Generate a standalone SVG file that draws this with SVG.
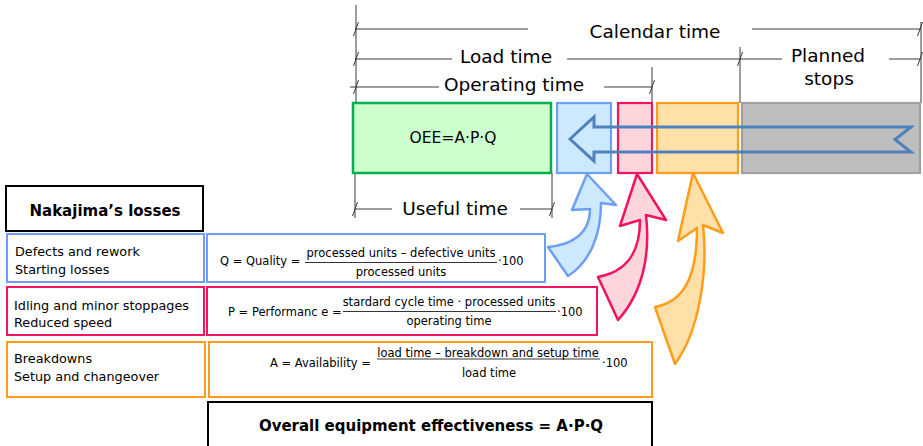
<svg xmlns="http://www.w3.org/2000/svg" width="923" height="446" viewBox="0 0 923 446">
<style>
.t{font-family:"DejaVu Sans","Liberation Sans",sans-serif;fill:#000}
.lbl{font-size:18.5px}
.row{font-size:12.8px}
.f{font-size:11.5px}
.b{font-size:15px;font-weight:bold}
.dim{stroke:#3a3a3a;stroke-width:1;fill:none}
.frac{stroke:#000;stroke-width:0.8}
.blue{fill:#cce9fd;stroke:#6f9ef8}
.pink{fill:#ffd5dc;stroke:#f2145f}
.orange{fill:#ffe0a8;stroke:#ff9c1a}
.box{stroke-width:2.2}
.rb{fill:#fff;stroke-width:2}
</style>
<defs>
<path id="tick" d="M-2.5,7 L2.5,-7" stroke="#3a3a3a" stroke-width="1" fill="none"/>
</defs>
<rect width="923" height="446" fill="#fff"/>

<g id="dimensions">
<path class="dim" d="M356,5 V103 M355,173 V218 M552,173 V218 M652,67 V110 M740,47 V103 M921,22 V103"/>
<path class="dim" d="M355,29 H528 M752,29 H921"/>
<path class="dim" d="M355,59 H452 M567,59 H782 M889,59 H921"/>
<path class="dim" d="M350,87 H439 M604,87 H652"/>
<path class="dim" d="M355,209 H392 M520,209 H552"/>
<use href="#tick" x="356" y="29"/>
<use href="#tick" x="356" y="59"/>
<use href="#tick" x="356" y="87"/>
<use href="#tick" x="652" y="87"/>
<use href="#tick" x="740" y="59"/>
<use href="#tick" x="920" y="29"/>
<use href="#tick" x="920" y="59"/>
<use href="#tick" x="355" y="209"/>
<use href="#tick" x="552" y="209"/>
<text class="t lbl" x="655" y="38" text-anchor="middle">Calendar time</text>
<text class="t lbl" x="506" y="63" text-anchor="middle">Load time</text>
<text class="t lbl" x="514" y="91" text-anchor="middle">Operating time</text>
<text class="t lbl" x="828" y="62" text-anchor="middle">Planned</text>
<text class="t lbl" x="829" y="85" text-anchor="middle">stops</text>
<text class="t lbl" x="455" y="215" text-anchor="middle">Useful time</text>
</g>

<g id="useful">
<rect x="353" y="103" width="198" height="70" fill="#ccffcc" stroke="#00b050" stroke-width="2.5"/>
<text class="t" x="453" y="143" text-anchor="middle" font-size="15.5">OEE=A·P·Q</text>
</g>
<g id="quality-loss"><rect class="blue box" x="557" y="103" width="54" height="70"/></g>
<g id="performance-loss"><rect class="pink box" x="618" y="103" width="34" height="70"/></g>
<g id="availability-loss"><rect class="orange box" x="657" y="103" width="81" height="70"/></g>
<g id="planned-stops"><rect x="742" y="103" width="178" height="70" fill="#bebebe" stroke="#a0a0a0" stroke-width="2.2"/></g>

<g id="nakajima">
<rect x="6" y="186" width="197" height="45" fill="#fff" stroke="#000" stroke-width="2"/>
<text class="t b" x="105" y="216" text-anchor="middle">Nakajima’s losses</text>
</g>

<g id="quality-row">
<rect class="rb" x="7" y="234" width="197" height="48" stroke="#6f9ef8"/>
<rect class="rb" x="207" y="234" width="338" height="48" stroke="#6f9ef8"/>
<text class="t row" x="15" y="256">Defects and rework</text>
<text class="t row" x="15" y="274">Starting losses</text>
<text class="t f" x="220" y="265">Q = Quality =</text>
<text class="t f" x="401" y="257" text-anchor="middle">processed units – defective units</text>
<line class="frac" x1="305" y1="262.5" x2="497" y2="262.5"/>
<text class="t f" x="401" y="276" text-anchor="middle">processed units</text>
<text class="t f" x="498" y="265">·100</text>
</g>

<g id="performance-row">
<rect class="rb" x="7" y="287" width="197" height="48" stroke="#f2145f"/>
<rect class="rb" x="207" y="287" width="390" height="48" stroke="#f2145f"/>
<text class="t row" x="14" y="310">Idling and minor stoppages</text>
<text class="t row" x="14" y="327">Reduced speed</text>
<text class="t f" x="228" y="316">P = Performanc e =</text>
<text class="t f" x="449" y="306" text-anchor="middle">stardard cycle time · processed units</text>
<line class="frac" x1="343" y1="311.5" x2="556" y2="311.5"/>
<text class="t f" x="449" y="325" text-anchor="middle">operating time</text>
<text class="t f" x="557" y="316">·100</text>
</g>

<g id="availability-row">
<rect class="rb" x="7" y="342" width="198" height="55" stroke="#ff9c1a"/>
<rect class="rb" x="209" y="342" width="443" height="55" stroke="#ff9c1a"/>
<text class="t row" x="14" y="363">Breakdowns</text>
<text class="t row" x="14" y="381">Setup and changeover</text>
<text class="t f" x="270" y="367">A = Availability =</text>
<text class="t f" x="488" y="357" text-anchor="middle">load time – breakdown and setup time</text>
<line class="frac" x1="377" y1="359" x2="600" y2="359"/>
<text class="t f" x="489" y="377" text-anchor="middle">load time</text>
<text class="t f" x="602" y="367">·100</text>
</g>

<g id="oee">
<rect x="208" y="402" width="444" height="50" fill="#fff" stroke="#000" stroke-width="2"/>
<text class="t b" x="431" y="431" text-anchor="middle">Overall equipment effectiveness = A·P·Q</text>
</g>

<g id="connectors">
<path d="M570,139 L594,117 L594,127 L911,127 L895,139.5 L911,152 L594,152 L594,161 Z" fill="none" stroke="#4f81bd" stroke-width="3" stroke-linejoin="miter"/>
<path class="blue" stroke-width="2.5" stroke-linejoin="round" d="M587,174 L616,205 L601,203 C601,235 590,262 568,276 L548,247 C570,245 590,235 590,209 L572,210 Z"/>
<path class="pink" stroke-width="2.5" stroke-linejoin="round" d="M637,174 L666,220 L646,215 C650,250 645,290 618,320 L598,277 C625,272 640,255 640,220 L620,226 Z"/>
<path class="orange" stroke-width="2.5" stroke-linejoin="round" d="M693,173 L723,233 L703,225 C708,270 700,330 675,364 L655,307 C682,302 697,280 697,228 L678,241 Z"/>
</g>
</svg>
